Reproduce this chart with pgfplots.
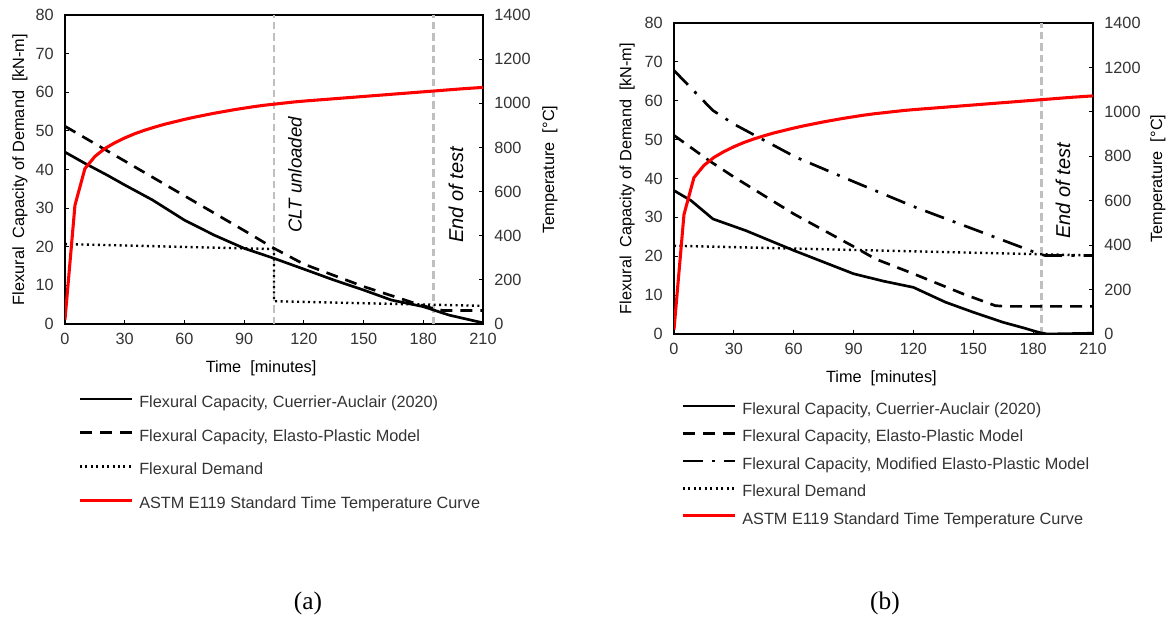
\documentclass[border=0pt]{standalone}
\usepackage{fontspec}
\setmainfont{Liberation Sans}
\newfontfamily\capfont{Liberation Serif}
\usepackage{pgfplots}
\pgfplotsset{compat=1.18}
\definecolor{txt}{HTML}{333333}
\definecolor{lbl}{HTML}{595959}
\definecolor{guide}{HTML}{BFBFBF}
\definecolor{fire}{HTML}{FF0000}
\newcommand\fs{\fontsize{12.2}{14.6}\selectfont}

\pgfplotsset{
  base/.style={
    scale only axis,
    xmin=0, xmax=210,
    font=\fs,
    tick label style={font=\fs, text=txt},
    /pgf/number format/assume math mode=true,
    /pgf/number format/1000 sep={},
    major tick length=3pt,
    tick style={black, line width=0.8pt},
    axis line style={black, line width=1pt},
  },
  capline/.style={black, line width=2pt},
  epline/.style={black, line width=2pt, dash pattern=on 9pt off 6pt},
  mepline/.style={black, line width=2pt, dash pattern=on 15pt off 7pt on 2.2pt off 7pt},
  demline/.style={black, line width=1.8pt, dash pattern=on 1.5pt off 2.6pt},
  fireline/.style={fire, line width=2.3pt},
  guideline/.style={guide, line width=2.2pt, dash pattern=on 5.5pt off 3pt},
  leftax/.style={
    base,
    ymin=0, ymax=80, ytick={0,10,...,80},
    xtick={0,30,...,210}, xtick pos=left, ytick pos=left,
    yticklabel style={xshift=-5pt},
    xticklabel style={yshift=-3pt},
    ylabel={Flexural\ \ Capacity of Demand\ \ [kN-m]},
    ylabel style={text=txt},
    xlabel={Time\ \ [minutes]},
    xlabel style={text=txt},
  },
  rightax/.style={
    base,
    ymin=0, ymax=1400, ytick={0,200,...,1400},
    axis y line*=right, axis x line=none,
    yticklabel style={xshift=5pt},
    ylabel={Temperature\ \ [\textdegree C]},
    ylabel style={text=lbl},
    legend cell align=left,
    legend image code/.code={\draw[##1] (0pt,3.2pt) -- (39pt,3.2pt);},
  },
}

\pgfplotstableread{
t T
0 20
5 538
10 704
15 759
20 795
25 821
30 843
35 862
40 878
45 892
50 905
55 916
60 927
65 937
70 946
75 955
80 963
85 971
90 978
95 985
100 991
105 996
110 1001
115 1006
120 1010
130 1017
140 1024
150 1031
160 1038
170 1045
180 1052
190 1059
200 1066
210 1072
}\astm

\begin{document}
\begin{tikzpicture}
\path (0,0) rectangle (877.5pt,-464.25pt);

% ---------- panel (a) ----------
\begin{axis}[leftax,
  at={(48.75pt,-243pt)}, anchor=south west,
  width=313.5pt, height=231.75pt,
  every axis y label/.style={at={(axis description cs:-0.108,0.5)}, rotate=90, anchor=center},
  every axis x label/.style={at={(axis description cs:0.469,-0.142)}, anchor=center},
]
\addplot[guideline] coordinates {(105,0) (105,80)};
\addplot[guideline] coordinates {(185,0) (185,80)};
\addplot[demline] coordinates {(0,20.7) (105,19.4) (105,5.9) (210,4.7)};
\addplot[epline] coordinates {(0,51.2) (30,42.2) (60,33.2) (90,24.2) (105,19.6) (120,15.5) (150,9.7) (175,5.5) (185,4.0) (190,3.5) (210,3.5)};
\addplot[capline] coordinates {(0,44.5) (10,41.6) (21,38.6) (30,36.0) (44,32.1) (60,26.9) (75,23.0) (90,19.6) (105,17.0) (119,14.4) (135,11.4) (150,8.8) (164,6.2) (180,4.5) (193,2.3) (210,0.3)};
\node[rotate=90, font=\fontsize{14}{16}\selectfont\itshape] at (axis cs:115.5,38.6) {CLT unloaded};
\node[rotate=90, font=\fontsize{15}{17}\selectfont\itshape] at (axis cs:196.4,33.4) {End of test};
\end{axis}
\begin{axis}[rightax,
  at={(48.75pt,-243pt)}, anchor=south west,
  width=313.5pt, height=231.75pt,
  every axis y label/.style={at={(axis description cs:1.160,0.5)}, rotate=90, anchor=center},
  legend style={at={(axis description cs:0.031,-0.232)}, anchor=north west,
    draw=none, fill=none, inner sep=0pt, row sep=14.3pt, column sep=4.5pt,
    nodes={font=\fs, text=txt, text height=8.5pt, text depth=2.5pt, inner sep=0pt}},
]
\addlegendimage{capline}
\addlegendentry{Flexural Capacity, Cuerrier-Auclair (2020)}
\addlegendimage{epline}
\addlegendentry{Flexural Capacity, Elasto-Plastic Model}
\addlegendimage{demline}
\addlegendentry{Flexural Demand}
\addplot[fireline] table[x=t,y=T] {\astm};
\addlegendentry{ASTM E119 Standard Time Temperature Curve}
\end{axis}

% ---------- panel (b) ----------
\begin{axis}[leftax,
  at={(505.5pt,-250.5pt)}, anchor=south west,
  width=314.25pt, height=233.25pt,
  every axis y label/.style={at={(axis description cs:-0.112,0.5)}, rotate=90, anchor=center},
  every axis x label/.style={at={(axis description cs:0.495,-0.1415)}, anchor=center},
]
\addplot[guideline] coordinates {(184,0) (184,80)};
\addplot[demline] coordinates {(0,22.7) (210,20.2)};
\addplot[mepline] coordinates {(0,67.8) (10,62.5) (19.5,57.5) (30,54.0) (61,45.5) (90,39.2) (121,32.6) (150,27.0) (183,20.6) (186,20.2) (210,20.2)};
\addplot[epline] coordinates {(0,51.1) (17.6,44.6) (30,40.4) (60,30.9) (90,22.5) (101,19.3) (120,15.5) (145,10.3) (161,7.3) (166,7.1) (210,7.1)};
\addplot[capline] coordinates {(0,36.9) (8.6,34.3) (19.5,29.6) (36,26.6) (60,21.5) (90,15.5) (105,13.6) (120,12.0) (136,8.2) (150,5.6) (165,3.0) (175,1.6) (183,0.4) (187,0) (210,0.2)};
\node[rotate=90, font=\fontsize{15}{17}\selectfont\itshape] at (axis cs:195,36.8) {End of test};
\end{axis}
\begin{axis}[rightax,
  at={(505.5pt,-250.5pt)}, anchor=south west,
  width=314.25pt, height=233.25pt,
  every axis y label/.style={at={(axis description cs:1.155,0.5)}, rotate=90, anchor=center},
  legend style={at={(axis description cs:0.0167,-0.221)}, anchor=north west,
    draw=none, fill=none, inner sep=0pt, row sep=9.6pt, column sep=4.5pt,
    nodes={font=\fs, text=txt, text height=8.5pt, text depth=2.5pt, inner sep=0pt}},
]
\addlegendimage{capline}
\addlegendentry{Flexural Capacity, Cuerrier-Auclair (2020)}
\addlegendimage{epline}
\addlegendentry{Flexural Capacity, Elasto-Plastic Model}
\addlegendimage{mepline}
\addlegendentry{Flexural Capacity, Modified Elasto-Plastic Model}
\addlegendimage{demline}
\addlegendentry{Flexural Demand}
\addplot[fireline] table[x=t,y=T] {\astm};
\addlegendentry{ASTM E119 Standard Time Temperature Curve}
\end{axis}

\node[font=\capfont\fontsize{19}{22}\selectfont] at (231pt,-452.25pt) {(a)};
\node[font=\capfont\fontsize{19}{22}\selectfont] at (663.75pt,-452.25pt) {(b)};
\end{tikzpicture}
\end{document}
